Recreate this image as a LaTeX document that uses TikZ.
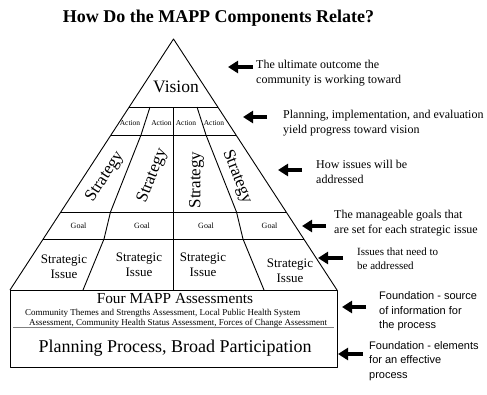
\documentclass[tikz,border=0pt]{standalone}
\usepackage{fontspec}
\setmainfont{Liberation Serif}
\newfontfamily\notesans{Liberation Sans}
\usetikzlibrary{calc,arrows.meta}

\begin{document}
\begin{tikzpicture}[x=1pt,y=-1pt,
  edge/.style={line width=0.9pt,line join=round},
  note/.style={anchor=west,align=left,inner sep=0pt,font=\fontsize{12}{15}\selectfont},
  sidenote/.style={anchor=west,align=left,inner sep=0pt,font=\notesans\fontsize{11}{14.5}\selectfont},
  pointer/.style={line width=4.2pt,-{Triangle[length=10pt,width=12pt]}},
  cell/.style={inner sep=0pt,align=center},
  tiny/.style={cell,font=\fontsize{7.5}{9}\selectfont},
  strat/.style={cell,font=\fontsize{17}{19}\selectfont},
  issue/.style={cell,font=\fontsize{13}{14.5}\selectfont}]

\useasboundingbox[fill=white] (0,0) rectangle (487,394);

% title
\node[font=\bfseries\fontsize{18}{20}\selectfont] (title) at (218.5,18) {How Do the MAPP Components Relate?};

% pyramid outline
\coordinate (apex) at (173.5,39);
\coordinate (bl) at (10,290);
\coordinate (br) at (337,290);
\draw[edge] (bl) -- (apex) -- (br);

% horizontal tiers
\foreach \t in {0.2709,0.3825,0.6892,0.7968}
  \draw[edge] ($(apex)!\t!(bl)$) -- ($(apex)!\t!(br)$);

% column dividers
\draw[edge] (173.5,107) -- (173.5,290);
\draw[edge] (150,107) -- (141,135) -- (110.5,212) -- (104,239) -- (83,290);
\draw[edge] (197,107) -- (206,135) -- (236.5,212) -- (243,239) -- (264,290);

% foundation block
\draw[edge] (10,290) rectangle (337,367);
\draw[gray, line width=1pt] (13,327) -- (334,327);

% tier contents
\node[cell,font=\fontsize{17.5}{19}\selectfont] (vision) at (176,87) {Vision};

\node[tiny] (act1) at (130,123) {Action};
\node[tiny] (act2) at (161.5,123) {Action};
\node[tiny] (act3) at (186,123) {Action};
\node[tiny] (act4) at (214,123) {Action};

\node[strat,rotate=57] (str1) at (105,177) {Strategy};
\node[strat,rotate=68.5] (str2) at (152.5,176) {Strategy};
\node[strat,rotate=90] (str3) at (196.5,180) {Strategy};
\node[strat,rotate=-68.5] (str4) at (237,177) {Strategy};

\node[tiny,font=\fontsize{8}{9}\selectfont] (goal1) at (78.5,226) {Goal};
\node[tiny,font=\fontsize{8}{9}\selectfont] (goal2) at (142,226) {Goal};
\node[tiny,font=\fontsize{8}{9}\selectfont] (goal3) at (206,226) {Goal};
\node[tiny,font=\fontsize{8}{9}\selectfont] (goal4) at (269.5,226) {Goal};

\node[issue] (iss1) at (64,267) {Strategic\\Issue};
\node[issue] (iss2) at (139,265) {Strategic\\Issue};
\node[issue] (iss3) at (203,265) {Strategic\\Issue};
\node[issue] (iss4) at (290,271) {Strategic\\Issue};

\node[cell,font=\fontsize{15.3}{17}\selectfont] (assess) at (175,299) {Four MAPP Assessments};
\node[cell,anchor=west,font=\fontsize{9}{10}\selectfont] (assessA) at (25,313) {Community Themes and Strengths Assessment, Local Public Health System};
\node[cell,anchor=west,font=\fontsize{9}{10}\selectfont] (assessB) at (29,323.5) {Assessment, Community Health Status Assessment, Forces of Change Assessment};
\node[cell,font=\fontsize{18}{20}\selectfont] (process) at (175,348) {Planning Process, Broad Participation};

% explanations
\node[note] (n1) at (256,73) {The ultimate outcome the\\community is working toward};
\node[note] (n2) at (283,123.5) {Planning, implementation, and evaluation\\yield progress toward vision};
\node[note] (n3) at (316,171.5) {How issues will be\\addressed};
\node[note] (n4) at (334,223) {The manageable goals that\\are set for each strategic issue};
\node[note,font=\fontsize{11}{14}\selectfont] (n5) at (357,259) {Issues that need to\\be addressed};
\node[sidenote] (n6) at (379,311.5) {Foundation - source\\of information for\\the process};
\node[sidenote] (n7) at (369,361) {Foundation - elements\\for an effective\\process};

% pointers
\coordinate (p1s) at (253,67);  \coordinate (p1e) at (228,67);
\coordinate (p2s) at (267,117); \coordinate (p2e) at (243,117);
\coordinate (p3s) at (302,170); \coordinate (p3e) at (278,170);
\coordinate (p4s) at (326,226); \coordinate (p4e) at (302,226);
\coordinate (p5s) at (343,258); \coordinate (p5e) at (318,258);
\coordinate (p6s) at (366,307); \coordinate (p6e) at (342,307);
\coordinate (p7s) at (363,354); \coordinate (p7e) at (338,354);
\foreach \k in {1,...,7}
  \draw[pointer] (p\k s) -- (p\k e);
\end{tikzpicture}
\end{document}
